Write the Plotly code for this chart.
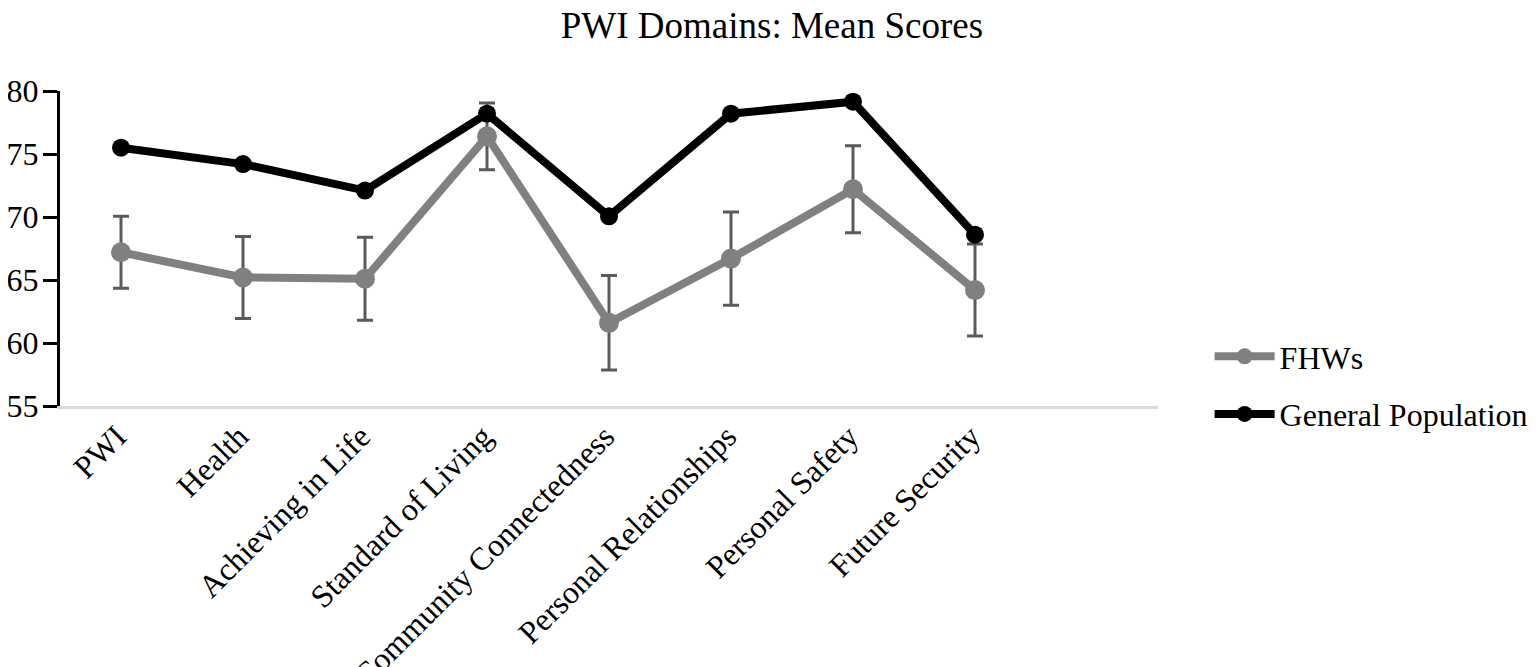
import plotly.graph_objects as go

categories = ["PWI", "Health", "Achieving in Life", "Standard of Living",
              "Community Connectedness", "Personal Relationships",
              "Personal Safety", "Future Security"]
fhws = [67.2, 65.2, 65.1, 76.4, 61.6, 66.7, 72.2, 64.2]
fhws_err = [2.85, 3.25, 3.3, 2.65, 3.75, 3.7, 3.45, 3.65]
general_pop = [75.5, 74.2, 72.1, 78.2, 70.05, 78.2, 79.15, 68.6]
y_ticks = [55, 60, 65, 70, 75, 80]

FONT = "Liberation Serif, Times New Roman, serif"

fig = go.Figure()
fig.add_trace(go.Scatter(
    x=categories, y=fhws, name="FHWs", mode="lines+markers",
    legendgroup="a",
    line=dict(color="#808080", width=8),
    marker=dict(color="#808080", size=20),
    error_y=dict(type="data", array=fhws_err, visible=True,
                 color="#5a5a5a", thickness=3, width=8),
))
fig.add_trace(go.Scatter(
    x=categories, y=general_pop, name="General Population", mode="lines+markers",
    legendgroup="b",
    line=dict(color="#000000", width=8),
    marker=dict(color="#000000", size=18),
))

fig.update_layout(
    width=1537, height=667,
    paper_bgcolor="white", plot_bgcolor="white",
    margin=dict(l=52, r=387, t=83, b=269, autoexpand=False),
    font=dict(family=FONT, size=32, color="black"),
    title=dict(text="PWI Domains: Mean Scores", font=dict(family=FONT, size=37, color="black"),
               x=0.497, xanchor="center", xref="container",
               y=0.975, yanchor="middle", yref="container"),
    showlegend=True,
    legend=dict(x=1.047, xanchor="left", y=0.065, yanchor="middle",
                font=dict(family=FONT, size=32, color="black"),
                tracegroupgap=13, itemwidth=60, bgcolor="rgba(0,0,0,0)"),
)
fig.update_xaxes(
    type="category", range=[-0.5, 8.5], automargin=False,
    showline=True, linecolor="#d9d9d9", linewidth=3,
    showgrid=False, ticks="", tickangle=-45,
    ticklabelshift=-4, ticklabelstandoff=-4,
    tickfont=dict(family=FONT, size=32, color="black"),
    zeroline=False,
)
fig.update_yaxes(
    range=[55, 80], tickvals=y_ticks, automargin=False,
    showline=True, linecolor="black", linewidth=3,
    ticks="outside", ticklen=14, tickwidth=3, tickcolor="black",
    ticklabelstandoff=-2,
    showgrid=False, zeroline=False,
    tickfont=dict(family=FONT, size=32, color="black"),
)

fig.write_html("out.html")
